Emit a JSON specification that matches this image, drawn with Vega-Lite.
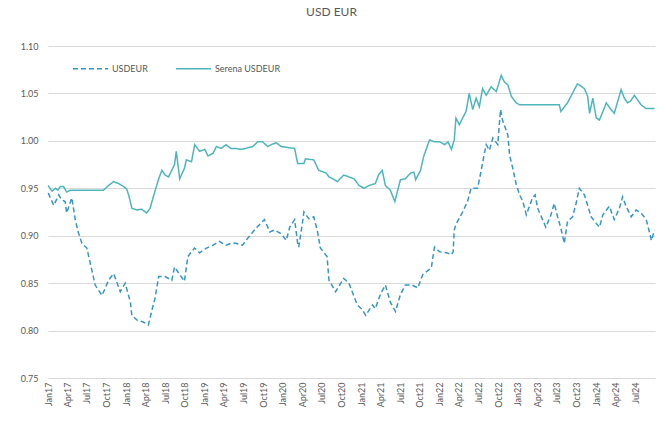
{
  "$schema": "https://vega.github.io/schema/vega-lite/v6.json",
  "width": 607,
  "height": 332,
  "autosize": {"type": "none"},
  "padding": {"left": 48, "top": 46, "right": 9, "bottom": 49},
  "background": "white",
  "title": {"text": "USD EUR", "anchor": "middle", "dx": -20, "offset": 23, "font": "Lato", "fontSize": 12, "fontWeight": "normal", "color": "#595959"},
  "config": {
    "view": {"stroke": null},
    "font": "Lato"
  },
  "datasets": {
    "usd": [
      {"date": "2017-01-02", "value": 0.945},
      {"date": "2017-01-10", "value": 0.941},
      {"date": "2017-01-28", "value": 0.932},
      {"date": "2017-02-20", "value": 0.943},
      {"date": "2017-03-05", "value": 0.938},
      {"date": "2017-03-22", "value": 0.936},
      {"date": "2017-03-29", "value": 0.924},
      {"date": "2017-04-22", "value": 0.940},
      {"date": "2017-05-08", "value": 0.917},
      {"date": "2017-05-23", "value": 0.903},
      {"date": "2017-06-08", "value": 0.892},
      {"date": "2017-07-01", "value": 0.887},
      {"date": "2017-07-24", "value": 0.864},
      {"date": "2017-08-09", "value": 0.848},
      {"date": "2017-09-10", "value": 0.837},
      {"date": "2017-10-10", "value": 0.853},
      {"date": "2017-11-03", "value": 0.860},
      {"date": "2017-12-04", "value": 0.841},
      {"date": "2017-12-27", "value": 0.850},
      {"date": "2018-01-20", "value": 0.830},
      {"date": "2018-01-27", "value": 0.816},
      {"date": "2018-02-20", "value": 0.811},
      {"date": "2018-03-21", "value": 0.809},
      {"date": "2018-04-14", "value": 0.806},
      {"date": "2018-04-29", "value": 0.820},
      {"date": "2018-05-15", "value": 0.834},
      {"date": "2018-06-01", "value": 0.857},
      {"date": "2018-07-01", "value": 0.857},
      {"date": "2018-08-01", "value": 0.853},
      {"date": "2018-08-14", "value": 0.867},
      {"date": "2018-08-29", "value": 0.862},
      {"date": "2018-09-29", "value": 0.852},
      {"date": "2018-10-15", "value": 0.878},
      {"date": "2018-11-15", "value": 0.887},
      {"date": "2018-12-09", "value": 0.882},
      {"date": "2019-01-10", "value": 0.887},
      {"date": "2019-02-10", "value": 0.890},
      {"date": "2019-03-10", "value": 0.894},
      {"date": "2019-04-11", "value": 0.890},
      {"date": "2019-05-04", "value": 0.892},
      {"date": "2019-05-27", "value": 0.892},
      {"date": "2019-06-27", "value": 0.890},
      {"date": "2019-07-20", "value": 0.897},
      {"date": "2019-08-29", "value": 0.908},
      {"date": "2019-10-07", "value": 0.917},
      {"date": "2019-11-01", "value": 0.904},
      {"date": "2019-11-23", "value": 0.906},
      {"date": "2019-12-24", "value": 0.902},
      {"date": "2020-01-17", "value": 0.895},
      {"date": "2020-02-02", "value": 0.909},
      {"date": "2020-02-25", "value": 0.917},
      {"date": "2020-03-10", "value": 0.892},
      {"date": "2020-03-15", "value": 0.888},
      {"date": "2020-04-01", "value": 0.913},
      {"date": "2020-04-08", "value": 0.925},
      {"date": "2020-05-01", "value": 0.918},
      {"date": "2020-05-24", "value": 0.920},
      {"date": "2020-06-09", "value": 0.906},
      {"date": "2020-06-24", "value": 0.887},
      {"date": "2020-07-25", "value": 0.878},
      {"date": "2020-08-03", "value": 0.853},
      {"date": "2020-09-03", "value": 0.841},
      {"date": "2020-10-11", "value": 0.855},
      {"date": "2020-11-04", "value": 0.850},
      {"date": "2020-12-13", "value": 0.827},
      {"date": "2021-01-06", "value": 0.822},
      {"date": "2021-01-21", "value": 0.816},
      {"date": "2021-02-22", "value": 0.827},
      {"date": "2021-03-07", "value": 0.823},
      {"date": "2021-04-01", "value": 0.839},
      {"date": "2021-04-23", "value": 0.848},
      {"date": "2021-05-16", "value": 0.830},
      {"date": "2021-06-09", "value": 0.820},
      {"date": "2021-07-02", "value": 0.838},
      {"date": "2021-07-25", "value": 0.848},
      {"date": "2021-08-26", "value": 0.848},
      {"date": "2021-09-21", "value": 0.845},
      {"date": "2021-10-14", "value": 0.859},
      {"date": "2021-11-23", "value": 0.866},
      {"date": "2021-12-08", "value": 0.888},
      {"date": "2022-01-01", "value": 0.883},
      {"date": "2022-02-02", "value": 0.882},
      {"date": "2022-02-25", "value": 0.880},
      {"date": "2022-03-05", "value": 0.883},
      {"date": "2022-03-10", "value": 0.906},
      {"date": "2022-03-18", "value": 0.912},
      {"date": "2022-04-18", "value": 0.925},
      {"date": "2022-05-11", "value": 0.936},
      {"date": "2022-05-27", "value": 0.950},
      {"date": "2022-06-27", "value": 0.950},
      {"date": "2022-07-12", "value": 0.967},
      {"date": "2022-07-27", "value": 0.985},
      {"date": "2022-08-06", "value": 0.996},
      {"date": "2022-08-21", "value": 0.990},
      {"date": "2022-09-06", "value": 1.003},
      {"date": "2022-09-29", "value": 0.996},
      {"date": "2022-10-06", "value": 1.017},
      {"date": "2022-10-12", "value": 1.033},
      {"date": "2022-10-21", "value": 1.022},
      {"date": "2022-11-15", "value": 1.006},
      {"date": "2022-11-23", "value": 0.985},
      {"date": "2022-12-08", "value": 0.971},
      {"date": "2022-12-24", "value": 0.954},
      {"date": "2023-01-09", "value": 0.943},
      {"date": "2023-01-24", "value": 0.936},
      {"date": "2023-02-09", "value": 0.922},
      {"date": "2023-03-10", "value": 0.940},
      {"date": "2023-03-22", "value": 0.943},
      {"date": "2023-04-03", "value": 0.929},
      {"date": "2023-05-11", "value": 0.909},
      {"date": "2023-06-04", "value": 0.922},
      {"date": "2023-06-19", "value": 0.934},
      {"date": "2023-07-05", "value": 0.920},
      {"date": "2023-07-20", "value": 0.908},
      {"date": "2023-08-05", "value": 0.892},
      {"date": "2023-08-20", "value": 0.915},
      {"date": "2023-09-13", "value": 0.920},
      {"date": "2023-09-29", "value": 0.934},
      {"date": "2023-10-14", "value": 0.950},
      {"date": "2023-11-07", "value": 0.943},
      {"date": "2023-11-22", "value": 0.932},
      {"date": "2023-12-08", "value": 0.920},
      {"date": "2024-01-01", "value": 0.913},
      {"date": "2024-01-16", "value": 0.909},
      {"date": "2024-02-01", "value": 0.922},
      {"date": "2024-03-02", "value": 0.931},
      {"date": "2024-03-25", "value": 0.917},
      {"date": "2024-04-18", "value": 0.929},
      {"date": "2024-05-03", "value": 0.941},
      {"date": "2024-05-19", "value": 0.931},
      {"date": "2024-06-12", "value": 0.920},
      {"date": "2024-07-05", "value": 0.927},
      {"date": "2024-07-28", "value": 0.924},
      {"date": "2024-08-21", "value": 0.917},
      {"date": "2024-09-06", "value": 0.903},
      {"date": "2024-09-14", "value": 0.895},
      {"date": "2024-09-29", "value": 0.906}
    ],
    "serena": [
      {"date": "2017-01-02", "value": 0.953},
      {"date": "2017-01-10", "value": 0.950},
      {"date": "2017-01-20", "value": 0.947},
      {"date": "2017-02-05", "value": 0.950},
      {"date": "2017-02-16", "value": 0.948},
      {"date": "2017-02-28", "value": 0.952},
      {"date": "2017-03-14", "value": 0.952},
      {"date": "2017-03-29", "value": 0.946},
      {"date": "2017-04-15", "value": 0.948},
      {"date": "2017-09-17", "value": 0.948},
      {"date": "2017-10-10", "value": 0.953},
      {"date": "2017-11-03", "value": 0.957},
      {"date": "2017-11-26", "value": 0.955},
      {"date": "2017-12-19", "value": 0.952},
      {"date": "2018-01-03", "value": 0.949},
      {"date": "2018-01-12", "value": 0.943},
      {"date": "2018-01-27", "value": 0.929},
      {"date": "2018-02-20", "value": 0.927},
      {"date": "2018-03-13", "value": 0.928},
      {"date": "2018-04-06", "value": 0.924},
      {"date": "2018-04-22", "value": 0.929},
      {"date": "2018-05-07", "value": 0.941},
      {"date": "2018-06-01", "value": 0.960},
      {"date": "2018-06-16", "value": 0.969},
      {"date": "2018-07-01", "value": 0.964},
      {"date": "2018-07-17", "value": 0.962},
      {"date": "2018-08-01", "value": 0.969},
      {"date": "2018-08-14", "value": 0.975},
      {"date": "2018-08-22", "value": 0.989},
      {"date": "2018-09-07", "value": 0.960},
      {"date": "2018-09-29", "value": 0.971},
      {"date": "2018-10-08", "value": 0.980},
      {"date": "2018-11-01", "value": 0.978},
      {"date": "2018-11-16", "value": 0.996},
      {"date": "2018-12-09", "value": 0.989},
      {"date": "2019-01-02", "value": 0.991},
      {"date": "2019-01-17", "value": 0.984},
      {"date": "2019-02-10", "value": 0.987},
      {"date": "2019-02-25", "value": 0.994},
      {"date": "2019-03-19", "value": 0.992},
      {"date": "2019-04-11", "value": 0.996},
      {"date": "2019-05-04", "value": 0.992},
      {"date": "2019-05-27", "value": 0.992},
      {"date": "2019-06-20", "value": 0.991},
      {"date": "2019-07-13", "value": 0.992},
      {"date": "2019-08-13", "value": 0.994},
      {"date": "2019-09-06", "value": 0.999},
      {"date": "2019-09-29", "value": 0.999},
      {"date": "2019-10-22", "value": 0.994},
      {"date": "2019-11-08", "value": 0.996},
      {"date": "2019-12-01", "value": 0.998},
      {"date": "2019-12-24", "value": 0.994},
      {"date": "2020-02-25", "value": 0.992},
      {"date": "2020-03-10", "value": 0.976},
      {"date": "2020-04-08", "value": 0.976},
      {"date": "2020-04-15", "value": 0.981},
      {"date": "2020-05-24", "value": 0.980},
      {"date": "2020-06-16", "value": 0.969},
      {"date": "2020-07-21", "value": 0.966},
      {"date": "2020-08-03", "value": 0.962},
      {"date": "2020-08-21", "value": 0.960},
      {"date": "2020-09-11", "value": 0.957},
      {"date": "2020-10-11", "value": 0.964},
      {"date": "2020-11-04", "value": 0.962},
      {"date": "2020-11-28", "value": 0.960},
      {"date": "2020-12-21", "value": 0.953},
      {"date": "2021-01-14", "value": 0.950},
      {"date": "2021-02-06", "value": 0.953},
      {"date": "2021-03-07", "value": 0.955},
      {"date": "2021-03-22", "value": 0.964},
      {"date": "2021-04-08", "value": 0.969},
      {"date": "2021-04-23", "value": 0.953},
      {"date": "2021-05-16", "value": 0.948},
      {"date": "2021-06-06", "value": 0.936},
      {"date": "2021-07-02", "value": 0.959},
      {"date": "2021-07-25", "value": 0.960},
      {"date": "2021-08-18", "value": 0.966},
      {"date": "2021-09-03", "value": 0.967},
      {"date": "2021-09-11", "value": 0.959},
      {"date": "2021-10-04", "value": 0.969},
      {"date": "2021-10-19", "value": 0.984},
      {"date": "2021-11-15", "value": 1.001},
      {"date": "2021-12-08", "value": 0.999},
      {"date": "2022-01-01", "value": 0.999},
      {"date": "2022-01-25", "value": 0.996},
      {"date": "2022-02-09", "value": 0.999},
      {"date": "2022-02-25", "value": 0.991},
      {"date": "2022-03-10", "value": 1.001},
      {"date": "2022-03-18", "value": 1.024},
      {"date": "2022-04-03", "value": 1.017},
      {"date": "2022-04-18", "value": 1.024},
      {"date": "2022-05-04", "value": 1.031},
      {"date": "2022-05-19", "value": 1.050},
      {"date": "2022-06-04", "value": 1.033},
      {"date": "2022-06-20", "value": 1.045},
      {"date": "2022-07-05", "value": 1.036},
      {"date": "2022-07-20", "value": 1.055},
      {"date": "2022-08-06", "value": 1.048},
      {"date": "2022-08-29", "value": 1.057},
      {"date": "2022-09-22", "value": 1.052},
      {"date": "2022-10-15", "value": 1.069},
      {"date": "2022-10-30", "value": 1.062},
      {"date": "2022-11-15", "value": 1.059},
      {"date": "2022-12-01", "value": 1.047},
      {"date": "2022-12-24", "value": 1.040},
      {"date": "2023-01-09", "value": 1.038},
      {"date": "2023-07-13", "value": 1.038},
      {"date": "2023-07-20", "value": 1.031},
      {"date": "2023-08-20", "value": 1.040},
      {"date": "2023-09-21", "value": 1.054},
      {"date": "2023-10-05", "value": 1.060},
      {"date": "2023-10-14", "value": 1.059},
      {"date": "2023-11-07", "value": 1.055},
      {"date": "2023-11-22", "value": 1.047},
      {"date": "2023-12-01", "value": 1.029},
      {"date": "2023-12-16", "value": 1.045},
      {"date": "2024-01-01", "value": 1.024},
      {"date": "2024-01-16", "value": 1.022},
      {"date": "2024-02-17", "value": 1.040},
      {"date": "2024-03-10", "value": 1.033},
      {"date": "2024-03-25", "value": 1.029},
      {"date": "2024-04-26", "value": 1.054},
      {"date": "2024-05-11", "value": 1.045},
      {"date": "2024-05-26", "value": 1.040},
      {"date": "2024-06-09", "value": 1.042},
      {"date": "2024-06-27", "value": 1.048},
      {"date": "2024-07-28", "value": 1.038},
      {"date": "2024-08-21", "value": 1.034},
      {"date": "2024-09-29", "value": 1.034}
    ]
  },
  "data": {"name": "usd"},
  "transform": [{"calculate": "'USDEUR'", "as": "series"}],
  "layer": [
    {
      "mark": {"type": "line", "strokeWidth": 1.5, "interpolate": "linear"},
      "encoding": {
        "x": {"field": "date", "type": "temporal"},
        "y": {"field": "value", "type": "quantitative"},
        "color": {"field": "series", "type": "nominal"},
        "strokeDash": {"field": "series", "type": "nominal"}
      }
    },
    {
      "data": {"name": "serena"},
      "transform": [{"calculate": "'Serena USDEUR'", "as": "series"}],
      "mark": {"type": "line", "strokeWidth": 1.5},
      "encoding": {
        "x": {"field": "date", "type": "temporal"},
        "y": {"field": "value", "type": "quantitative"},
        "color": {"field": "series", "type": "nominal"},
        "strokeDash": {"field": "series", "type": "nominal"}
      }
    }
  ],
  "encoding": {
    "x": {
      "field": "date", "type": "temporal",
      "scale": {"type": "utc", "domain": [{"year": 2017, "month": 1, "date": 1, "utc": true}, {"year": 2024, "month": 10, "date": 1, "utc": true}]},
      "axis": {
        "title": null, "labelExpr": "utcFormat(datum.value, '%b%y')", "labelAngle": 270, "labelFontSize": 9, "labelColor": "#595959",
        "labelPadding": 4, "ticks": false, "domain": false, "grid": false, "labelOverlap": false, "labelBound": false, "labelFlush": false,
        "values": [
          {"year": 2017, "month": 1, "date": 1, "utc": true}, {"year": 2017, "month": 4, "date": 1, "utc": true}, {"year": 2017, "month": 7, "date": 1, "utc": true}, {"year": 2017, "month": 10, "date": 1, "utc": true},
          {"year": 2018, "month": 1, "date": 1, "utc": true}, {"year": 2018, "month": 4, "date": 1, "utc": true}, {"year": 2018, "month": 7, "date": 1, "utc": true}, {"year": 2018, "month": 10, "date": 1, "utc": true},
          {"year": 2019, "month": 1, "date": 1, "utc": true}, {"year": 2019, "month": 4, "date": 1, "utc": true}, {"year": 2019, "month": 7, "date": 1, "utc": true}, {"year": 2019, "month": 10, "date": 1, "utc": true},
          {"year": 2020, "month": 1, "date": 1, "utc": true}, {"year": 2020, "month": 4, "date": 1, "utc": true}, {"year": 2020, "month": 7, "date": 1, "utc": true}, {"year": 2020, "month": 10, "date": 1, "utc": true},
          {"year": 2021, "month": 1, "date": 1, "utc": true}, {"year": 2021, "month": 4, "date": 1, "utc": true}, {"year": 2021, "month": 7, "date": 1, "utc": true}, {"year": 2021, "month": 10, "date": 1, "utc": true},
          {"year": 2022, "month": 1, "date": 1, "utc": true}, {"year": 2022, "month": 4, "date": 1, "utc": true}, {"year": 2022, "month": 7, "date": 1, "utc": true}, {"year": 2022, "month": 10, "date": 1, "utc": true},
          {"year": 2023, "month": 1, "date": 1, "utc": true}, {"year": 2023, "month": 4, "date": 1, "utc": true}, {"year": 2023, "month": 7, "date": 1, "utc": true}, {"year": 2023, "month": 10, "date": 1, "utc": true},
          {"year": 2024, "month": 1, "date": 1, "utc": true}, {"year": 2024, "month": 4, "date": 1, "utc": true}, {"year": 2024, "month": 7, "date": 1, "utc": true}
        ]
      }
    },
    "y": {
      "field": "value", "type": "quantitative",
      "scale": {"domain": [0.75, 1.10], "nice": false, "zero": false},
      "axis": {
        "title": null, "format": ".2f", "values": [0.75, 0.80, 0.85, 0.90, 0.95, 1.00, 1.05, 1.10],
        "labelFontSize": 9, "labelColor": "#595959", "labelPadding": 10, "ticks": false, "domain": false,
        "grid": true, "gridColor": "#D9D9D9", "gridWidth": 1
      }
    },
    "color": {
      "field": "series", "type": "nominal",
      "scale": {"domain": ["USDEUR", "Serena USDEUR"], "range": ["#3596C6", "#4DB6BC"]},
      "legend": {
        "title": null, "orient": "none", "legendX": 24, "legendY": 4, "direction": "horizontal",
        "symbolType": "stroke", "symbolSize": 1225, "symbolStrokeWidth": 1.5,
        "labelFontSize": 9, "labelColor": "#595959", "labelOffset": 3, "columnPadding": 25
      }
    },
    "strokeDash": {
      "field": "series", "type": "nominal",
      "scale": {"domain": ["USDEUR", "Serena USDEUR"], "range": [[5, 3], [1, 0]]},
      "legend": null
    }
  }
}
